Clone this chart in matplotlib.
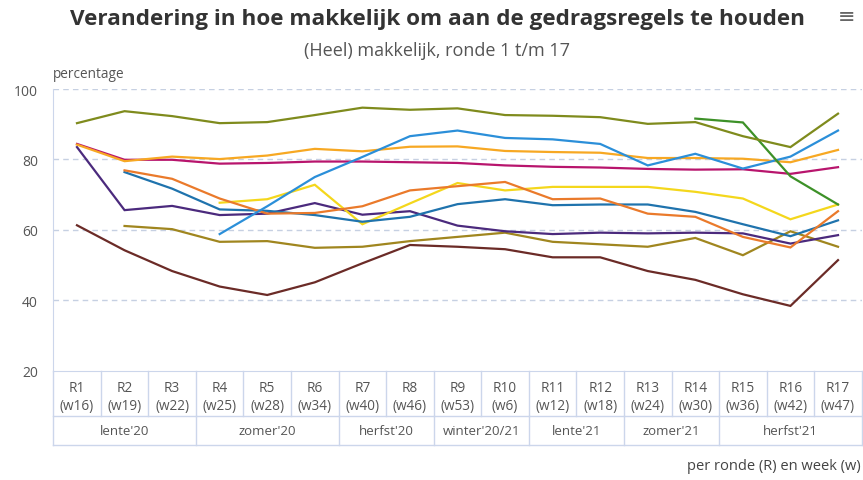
import matplotlib
matplotlib.use("Agg")
import matplotlib.pyplot as plt
import matplotlib.transforms as mtransforms
import numpy as np

plt.rcParams['font.family'] = ['Open Sans', 'DejaVu Sans']

rondes = ["R1", "R2", "R3", "R4", "R5", "R6", "R7", "R8", "R9",
          "R10", "R11", "R12", "R13", "R14", "R15", "R16", "R17"]
weken = ["(w16)", "(w19)", "(w22)", "(w25)", "(w28)", "(w34)", "(w40)", "(w46)", "(w53)",
         "(w6)", "(w12)", "(w18)", "(w24)", "(w30)", "(w36)", "(w42)", "(w47)"]
seizoenen = ["lente'20", "zomer'20", "herfst'20", "winter'20/21", "lente'21", "zomer'21", "herfst'21"]
seizoen_lengte = [3, 3, 2, 2, 2, 2, 3]

nan = np.nan
olijf = [90.3, 93.7, 92.3, 90.3, 90.6, 92.6, 94.7, 94.1, 94.5, 92.6, 92.4, 92.0, 90.1, 90.6, 86.6, 83.5, 93.0]
groen = [nan] * 13 + [91.6, 90.5, 75.2, 67.2]
blauw = [nan, nan, nan, 58.8, 66.7, 75.0, 80.7, 86.6, 88.2, 86.1, 85.7, 84.4, 78.3, 81.6, 77.4, 80.8, 88.2]
amber = [84.2, 79.5, 80.8, 80.1, 81.1, 83.0, 82.3, 83.6, 83.7, 82.4, 82.1, 81.9, 80.4, 80.4, 80.2, 79.2, 82.7]
magenta = [84.4, 79.9, 79.9, 78.8, 79.0, 79.4, 79.4, 79.2, 79.0, 78.3, 77.9, 77.7, 77.3, 77.1, 77.2, 75.9, 77.8]
oranje = [nan, 76.9, 74.5, 68.9, 64.6, 64.8, 66.7, 71.2, 72.4, 73.6, 68.7, 68.9, 64.6, 63.7, 58.0, 55.0, 65.3]
petrol = [nan, 76.4, 71.7, 65.8, 65.4, 64.2, 62.3, 63.7, 67.3, 68.7, 67.0, 67.2, 67.2, 65.1, 61.6, 58.2, 62.7]
geel = [nan, nan, nan, 67.7, 68.7, 72.8, 61.6, 67.5, 73.3, 71.2, 72.2, 72.2, 72.2, 70.8, 68.9, 63.0, 67.2]
paars = [83.5, 65.6, 66.8, 64.2, 64.6, 67.6, 64.3, 65.3, 61.2, 59.6, 58.8, 59.2, 59.0, 59.2, 59.0, 56.1, 58.5]
goud = [nan, 61.1, 60.2, 56.6, 56.8, 54.9, 55.2, 56.8, 58.0, 59.2, 56.6, 55.9, 55.2, 57.7, 52.8, 59.6, 55.2]
bruin = [61.3, 54.2, 48.3, 43.9, 41.5, 45.1, 50.5, 55.7, 55.2, 54.5, 52.2, 52.2, 48.3, 45.8, 41.7, 38.4, 51.4]

reeksen = [
    (bruin, "#6b2b27"),
    (goud, "#a0861f"),
    (paars, "#4b2a7d"),
    (geel, "#f4d71c"),
    (petrol, "#1f73ad"),
    (oranje, "#ea7a2b"),
    (magenta, "#b8156d"),
    (amber, "#f7a823"),
    (blauw, "#2b8fd9"),
    (groen, "#3d9128"),
    (olijf, "#7f8b1d"),
]

fig = plt.figure(figsize=(8.63, 4.81), dpi=100)
ax = fig.add_axes([53.2 / 863, 1 - 371.7 / 481, 808.6 / 863, 281.7 / 481])

x = np.arange(len(rondes))
for waarden, kleur in reeksen:
    ax.plot(x, waarden, color=kleur, lw=1.6, solid_joinstyle='miter')

rand = "#ccd6eb"
tekst = "#555555"
ax.set_xlim(-0.5, len(rondes) - 0.5)
ax.set_ylim(20, 100)
ax.set_yticks([20, 40, 60, 80, 100])
ax.set_yticklabels(["20", "40", "60", "80", "100"])
ax.tick_params(axis='y', length=0, pad=11, labelsize=10, labelcolor=tekst)
ax.set_xticks([])
for y in [40, 60, 80, 100]:
    ax.axhline(y, color="#c6d0e2", lw=1, ls=(0, (4, 3)), zorder=0)
for s in ["top", "right"]:
    ax.spines[s].set_visible(False)
ax.spines["left"].set_color(rand)
ax.spines["bottom"].set_color(rand)

# tabel met rondes en seizoenen onder de as
tr = mtransforms.blended_transform_factory(ax.transData, ax.transAxes)
h = 281.7
rij1 = -45 / h
rij2 = -74 / h
for yy in [rij1, rij2]:
    ax.plot([-0.5, 16.5], [yy, yy], color=rand, lw=1, transform=tr, clip_on=False)
for xx in [-0.5, 16.5]:
    ax.plot([xx, xx], [0, rij2], color=rand, lw=1, transform=tr, clip_on=False)
for i in range(1, len(rondes)):
    ax.plot([i - 0.5, i - 0.5], [0, rij1], color=rand, lw=1, transform=tr, clip_on=False)
for i, (r, w) in enumerate(zip(rondes, weken)):
    ax.text(i, -17 / h, r, transform=tr, ha='center', va='center', fontsize=9.8, color=tekst)
    ax.text(i, -35 / h, w, transform=tr, ha='center', va='center', fontsize=9.8, color=tekst)
start = 0
for naam, n in zip(seizoenen, seizoen_lengte):
    eind = start + n
    if eind < len(rondes):
        ax.plot([eind - 0.5, eind - 0.5], [rij1, rij2], color=rand, lw=1, transform=tr, clip_on=False)
    ax.text((start + eind - 1) / 2, (rij1 + rij2) / 2, naam, transform=tr, ha='center', va='center',
            fontsize=9.5, color=tekst)
    start = eind

fig.text(437.5 / 863, 1 - 20 / 481, "Verandering in hoe makkelijk om aan de gedragsregels te houden",
         ha='center', va='center', fontsize=16.2, fontweight='bold', color="#333333")
fig.text(437 / 863, 1 - 51 / 481, "(Heel) makkelijk, ronde 1 t/m 17",
         ha='center', va='center', fontsize=13, color="#555555")
fig.text(847 / 863, 1 - 17 / 481, "\u2261", ha='center', va='center', fontsize=15, color="#666666",
         family=['DejaVu Sans'])
fig.text(53 / 863, 1 - 75 / 481, "percentage", ha='left', va='center', fontsize=9.8, color=tekst)
fig.text(861 / 863, 1 - 467 / 481, "per ronde (R) en week (w)", ha='right', va='center',
         fontsize=10.5, color="#444444")

fig.savefig("out.png", dpi=100)
